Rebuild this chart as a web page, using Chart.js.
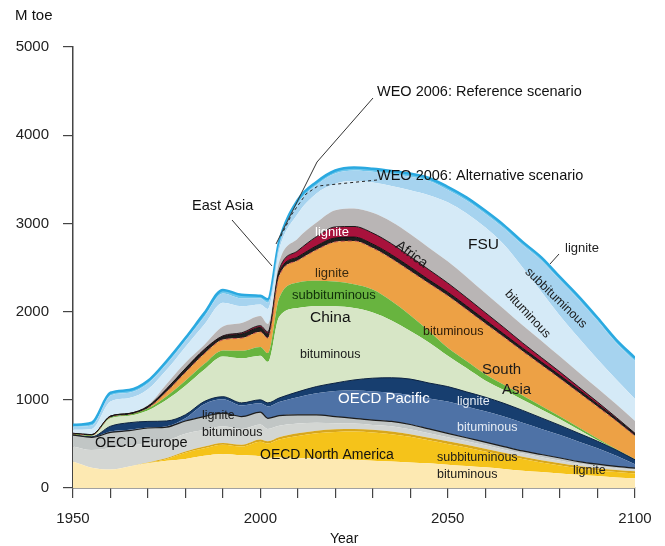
<!DOCTYPE html>
<html>
<head>
<meta charset="utf-8">
<script src="https://cdn.jsdelivr.net/npm/chart.js@4.4.1/dist/chart.umd.min.js"></script>
<style>
  body { margin: 0; background: #fff; }
  canvas { display: block; }
</style>
</head>
<body>
<canvas id="grafico" width="665" height="546"></canvas>
<script>
// anos (eixo x)
const years = [1950, 1955, 1960, 1965, 1970, 1975, 1980, 1985, 1990, 1995, 2000, 2002,
  2005, 2010, 2015, 2020, 2025, 2030, 2035, 2040, 2045, 2050, 2055, 2060, 2065,
  2070, 2075, 2080, 2085, 2090, 2095, 2100];

// camadas de baixo para cima, Mtoe
const naBituminous = [300, 230, 210, 245, 280, 310, 330, 365, 385, 370, 360, 340, 345, 340, 335, 330, 320, 310, 300, 290, 280, 265, 250, 235, 215, 195, 180, 165, 150, 135, 120, 110];
const naSubbituminous = [0, 0, 0, 0, 5, 20, 70, 85, 105, 100, 165, 165, 205, 250, 285, 305, 320, 320, 310, 290, 260, 235, 210, 180, 160, 135, 110, 90, 75, 65, 60, 55];
const naLignite = [0, 0, 0, 0, 5, 10, 15, 20, 20, 20, 25, 25, 25, 30, 30, 30, 30, 30, 30, 30, 30, 30, 30, 30, 25, 25, 25, 25, 25, 25, 25, 25];
const euBituminous = [170, 200, 240, 230, 220, 200, 200, 190, 190, 180, 170, 140, 130, 110, 90, 70, 60, 55, 60, 55, 50, 45, 40, 40, 35, 35, 35, 30, 25, 25, 20, 20];
const euLignite = [130, 145, 180, 175, 170, 150, 145, 150, 150, 140, 140, 120, 115, 100, 90, 75, 60, 55, 55, 55, 50, 45, 40, 35, 35, 30, 30, 30, 25, 20, 20, 15];
const pacBituminous = [0, 0, 10, 10, 5, 10, 30, 140, 155, 125, 100, 135, 155, 200, 245, 290, 315, 325, 325, 335, 345, 360, 355, 350, 340, 320, 290, 260, 225, 180, 120, 45];
const pacLignite = [0, 5, 60, 80, 70, 60, 40, 30, 30, 30, 40, 40, 45, 60, 75, 90, 120, 150, 170, 180, 175, 170, 165, 160, 150, 140, 125, 110, 95, 80, 65, 50];
const chinaBituminous = [5, 10, 90, 80, 125, 240, 330, 360, 455, 505, 500, 465, 920, 950, 910, 870, 815, 745, 650, 545, 460, 350, 270, 190, 150, 120, 95, 70, 40, 10, 2, 2];
const chinaSubbituminous = [3, 5, 10, 10, 20, 40, 55, 65, 70, 85, 100, 100, 210, 290, 290, 280, 270, 260, 220, 180, 130, 90, 80, 70, 60, 50, 40, 30, 25, 20, 6, 3];
const southAsia = [2, 0, 0, 0, 5, 50, 95, 115, 120, 145, 170, 170, 250, 250, 350, 450, 490, 470, 480, 500, 540, 590, 585, 575, 540, 500, 465, 430, 395, 360, 322, 265];
const eastAsia = [10, 10, 15, 15, 20, 30, 40, 40, 35, 45, 50, 50, 40, 40, 45, 45, 45, 45, 45, 45, 40, 40, 40, 40, 35, 35, 35, 35, 35, 30, 25, 20];
const africaLignite = [0, 0, 0, 0, 0, 5, 5, 10, 10, 15, 20, 20, 30, 70, 105, 125, 120, 125, 125, 120, 115, 105, 95, 85, 75, 60, 50, 40, 30, 25, 15, 10];
const africa = [5, 7, 7, 7, 15, 55, 65, 50, 105, 110, 110, 90, 90, 140, 160, 190, 205, 230, 250, 255, 250, 245, 235, 220, 210, 200, 190, 175, 165, 155, 150, 140];
const fsuBituminous = [35, 58, 158, 168, 180, 160, 180, 230, 270, 190, 130, 170, 140, 280, 330, 300, 310, 345, 405, 495, 595, 670, 720, 745, 730, 655, 555, 460, 390, 330, 280, 250];
const fsuSubbituminous = [35, 40, 70, 60, 65, 65, 70, 90, 105, 90, 70, 70, 60, 115, 95, 115, 120, 120, 135, 155, 160, 140, 145, 155, 185, 255, 355, 405, 435, 435, 415, 430];
const fsuLignite = [22, 30, 30, 30, 30, 35, 30, 40, 40, 40, 30, 40, 30, 40, 35, 35, 35, 35, 35, 35, 35, 35, 35, 35, 35, 35, 35, 35, 35, 35, 35, 35];

const xTicks = [1950, 2000, 2050, 2100];

function camada(label, values, color, extra) {
  return Object.assign({
    label: label,
    data: years.map((y, i) => ({ x: y, y: values[i] })),
    backgroundColor: color,
    borderColor: color,
    borderWidth: 0,
    fill: '-1',
    pointRadius: 0,
    cubicInterpolationMode: 'monotone'
  }, extra || {});
}

// textos desenhados sobre o grafico
const textos = {
  id: 'textos',
  afterDraw(chart) {
    const c = chart.ctx;
    c.save();
    c.textBaseline = 'middle';
    c.textAlign = 'left';

    function t(txt, x, y, size, color, ang) {
      c.save();
      c.font = size + 'px "Liberation Sans", Arial, sans-serif';
      c.fillStyle = color || '#111';
      c.translate(x, y);
      if (ang) c.rotate(ang * Math.PI / 180);
      c.fillText(txt, 0, 0);
      c.restore();
    }

    t('M toe', 15, 16, 15);
    t('Year', 330, 539, 14);

    // linhas de chamada
    c.strokeStyle = '#333';
    c.lineWidth = 1;
    c.beginPath();
    c.moveTo(373, 98); c.lineTo(317, 162); c.lineTo(276, 244);
    c.stroke();
    c.beginPath();
    c.moveTo(232, 220); c.lineTo(272, 266);
    c.stroke();
    c.beginPath();
    c.moveTo(559, 254); c.lineTo(550, 264);
    c.stroke();
    c.setLineDash([3, 3]);
    c.strokeStyle = '#222';
    c.beginPath();
    c.moveTo(377, 180); c.lineTo(318, 186); c.lineTo(306, 194); c.lineTo(292, 214); c.lineTo(280, 238);
    c.stroke();
    c.setLineDash([]);

    t('WEO 2006: Reference scenario', 377, 92, 14.5);
    t('WEO 2006: Alternative scenario', 377, 176, 14.5);
    t('East Asia', 192, 206, 14.5);

    t('lignite', 315, 232, 13, '#ffffff');
    t('Africa', 397, 244, 14, '#1a1a1a', 36);
    t('FSU', 468, 245, 15.5);
    t('lignite', 565, 248, 13, '#222');
    t('subbituminous', 527, 270, 12.5, '#1a1a1a', 44);
    t('bituminous', 507, 292, 12.5, '#1a1a1a', 47);

    t('lignite', 315, 273, 13, '#3a2a10');
    t('subbituminous', 292, 295, 13, '#10300a');
    t('China', 310, 318, 15.5, '#111');
    t('bituminous', 300, 355, 12.5, '#1a1a1a');
    t('bituminous', 423, 332, 12.5, '#2a1a08');
    t('South', 482, 370, 15, '#1a1a1a');
    t('Asia', 502, 390, 15, '#1a1a1a');

    t('OECD Pacific', 338, 399, 15, '#ffffff');
    t('lignite', 457, 402, 12.5, '#e6ecf4');
    t('bituminous', 457, 428, 12.5, '#e6ecf4');

    t('OECD Europe', 95, 443, 14.5, '#111');
    t('lignite', 202, 416, 12.5, '#1a1a1a');
    t('bituminous', 202, 433, 12.5, '#1a1a1a');

    t('OECD North America', 260, 455, 14, '#111');
    t('subbituminous', 437, 458, 12.5, '#1a1a1a');
    t('bituminous', 437, 475, 12.5, '#1a1a1a');
    t('lignite', 573, 471, 12.5, '#1a1a1a');

    c.restore();
  }
};

const ctx = document.getElementById('grafico').getContext('2d');

new Chart(ctx, {
  type: 'line',
  data: {
    datasets: [
      camada('OECD North America bituminous', naBituminous, '#fde9b2', { fill: 'origin' }),
      camada('OECD North America subbituminous', naSubbituminous, '#f5c31a'),
      camada('OECD North America lignite', naLignite, '#d8a71c'),
      camada('OECD Europe bituminous', euBituminous, '#d3d6d3'),
      camada('OECD Europe lignite', euLignite, '#c1c6c5', { borderColor: '#1c1c1c', borderWidth: 1.2 }),
      camada('OECD Pacific bituminous', pacBituminous, '#4e72a6'),
      camada('OECD Pacific lignite', pacLignite, '#173e6f', { borderColor: '#0c223f', borderWidth: 1 }),
      camada('China bituminous', chinaBituminous, '#d7e6c6'),
      camada('China subbituminous', chinaSubbituminous, '#68b43f'),
      camada('South Asia', southAsia, '#eda145', { borderColor: '#c0504d', borderWidth: 1, borderDash: [4, 3] }),
      camada('East Asia', eastAsia, '#1e1e1e', { borderColor: '#111', borderWidth: 1 }),
      camada('Africa lignite', africaLignite, '#a8123c', { borderColor: '#1a1a1a', borderWidth: 1 }),
      camada('Africa', africa, '#b9b5b5'),
      camada('FSU bituminous', fsuBituminous, '#d5eaf7'),
      camada('FSU subbituminous', fsuSubbituminous, '#a6d3ef'),
      camada('FSU lignite', fsuLignite, '#6cc6ec', { borderColor: '#2aa9e0', borderWidth: 2.5 })
    ]
  },
  options: {
    responsive: false,
    animation: false,
    devicePixelRatio: 1,
    layout: { padding: { top: 47, right: 30, left: 0, bottom: 0 } },
    plugins: { legend: { display: false }, tooltip: { enabled: false } },
    scales: {
      x: {
        type: 'linear',
        min: 1950,
        max: 2100,
        afterFit: s => { s.height = 58; },
        ticks: {
          stepSize: 10,
          autoSkip: false,
          maxRotation: 0,
          padding: 12,
          color: '#222',
          font: { size: 15, family: '"Liberation Sans", Arial, sans-serif' },
          callback: v => xTicks.includes(v) ? String(v) : ''
        },
        grid: { drawOnChartArea: false, drawTicks: true, tickLength: 10, color: '#444', lineWidth: 1.2 },
        border: { color: '#444', width: 1.5 }
      },
      y: {
        stacked: true,
        min: 0,
        max: 5000,
        afterFit: s => { s.width = 73; },
        ticks: {
          stepSize: 1000,
          padding: 14,
          color: '#222',
          font: { size: 15, family: '"Liberation Sans", Arial, sans-serif' },
          callback: v => String(v)
        },
        grid: { drawOnChartArea: false, drawTicks: true, tickLength: 10, color: '#444', lineWidth: 1.2 },
        border: { color: '#444', width: 1.5 }
      }
    }
  },
  plugins: [textos]
});
</script>
</body>
</html>
